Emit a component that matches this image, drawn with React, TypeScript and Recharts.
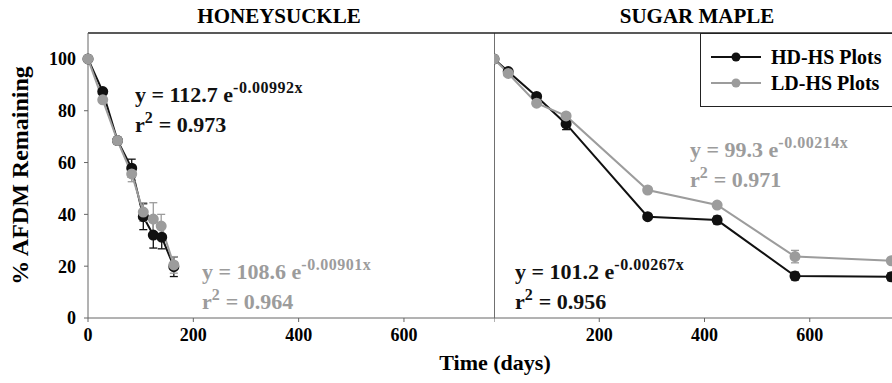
import React from 'react';
import { LineChart, Line, XAxis, YAxis, ErrorBar, ReferenceLine } from 'recharts';

// Honeysuckle (left panel)
const hsDaysHD = [0, 28, 56, 83, 105, 124, 140, 163];
const hsHD = [100, 87.4, 68.5, 57.8, 39.1, 32.0, 31.2, 19.8];
const hsErrHD = [0, 1, 1, 3.5, 5, 5, 4.5, 3.8];
const hsDaysLD = [0, 28, 56, 83, 105, 124, 139, 163];
const hsLD = [100, 84.2, 68.5, 55.6, 40.9, 38.2, 35.5, 20.5];
const hsErrLD = [0, 1, 1.5, 3, 3.6, 6.3, 4.5, 3.2];

// Sugar maple (right panel)
const smDays = [0, 27, 81, 137, 292, 424, 572, 755];
const smHD = [100, 95.1, 85.5, 74.9, 39.1, 37.8, 16.2, 15.9];
const smErrHD = [0, 1, 1, 2.2, 1, 1.5, 1.5, 1.5];
const smLD = [100, 94.4, 82.9, 78.0, 49.4, 43.6, 23.7, 22.1];
const smErrLD = [0, 1, 1, 1, 1, 1, 2.4, 1];

const yTicks = [0, 20, 40, 60, 80, 100];
const hsTicks = [0, 200, 400, 600];
const smTicks = [0, 200, 400, 600];

const BLACK = '#111111';
const GRAY = '#9c9c9c';
const AXIS = '#666666';
const FONT = '"Liberation Serif", "Times New Roman", serif';

const build = (days: number[], vals: number[], errs: number[]) =>
  days.map((d, i) => ({ day: d, value: vals[i], err: errs[i] }));

const hsDataHD = build(hsDaysHD, hsHD, hsErrHD);
const hsDataLD = build(hsDaysLD, hsLD, hsErrLD);
const smDataHD = build(smDays, smHD, smErrHD);
const smDataLD = build(smDays, smLD, smErrLD);

const tickStyle = { fill: '#000', fontSize: 18, fontWeight: 700, fontFamily: FONT };

const supStyle: React.CSSProperties = { fontSize: 16, verticalAlign: 'top', position: 'relative', top: -7, letterSpacing: 0.5 };

const Equation = ({ x, y, color, coef, exp, r2 }: { x: number; y: number; color: string; coef: string; exp: string; r2: string }) => (
  <div style={{ position: 'absolute', left: x, top: y, color, fontSize: 22, fontWeight: 700, lineHeight: '30px', whiteSpace: 'nowrap' }}>
    <div>
      y = {coef} e<sup style={supStyle}>{exp}</sup>
    </div>
    <div>
      r<sup style={supStyle}>2</sup> = {r2}
    </div>
  </div>
);

const series = (data: any[], color: string, name: string) => (
  <Line
    data={data}
    dataKey="value"
    name={name}
    stroke={color}
    strokeWidth={2}
    dot={{ r: 4.5, fill: color, stroke: color }}
    isAnimationActive={false}
  >
    <ErrorBar dataKey="err" width={4} stroke={color} strokeWidth={1.3} direction="y" />
  </Line>
);

const App = () => {
  return (
    <div style={{ position: 'absolute', left: 0, top: 0, width: 892, height: 383, overflow: 'hidden', background: '#fff', fontFamily: FONT }}>
      {/* left panel */}
      <div style={{ position: 'absolute', left: 0, top: 0 }}>
        <LineChart width={494} height={383} margin={{ top: 33, right: 0, bottom: 0, left: 0 }}>
          <XAxis
            type="number"
            dataKey="day"
            domain={[0, 771]}
            ticks={hsTicks}
            height={65}
            tickSize={4}
            tickMargin={6}
            stroke={AXIS}
            tick={tickStyle}
            allowDuplicatedCategory={false}
          />
          <YAxis
            type="number"
            domain={[0, 110]}
            ticks={yTicks}
            width={88}
            tickSize={4}
            tickMargin={8}
            stroke={AXIS}
            tick={tickStyle}
            label={{ value: '% AFDM Remaining', angle: -90, position: 'insideLeft', offset: 19, style: { textAnchor: 'middle', fill: '#000', fontSize: 24, fontWeight: 700, fontFamily: FONT } }}
          />
          <ReferenceLine y={110} stroke="#222" strokeWidth={1.3} />
          {series(hsDataHD, BLACK, 'HD-HS Plots')}
          {series(hsDataLD, GRAY, 'LD-HS Plots')}
        </LineChart>
      </div>
      {/* right panel */}
      <div style={{ position: 'absolute', left: 494, top: 0 }}>
        <LineChart width={421} height={383} margin={{ top: 33, right: 0, bottom: 0, left: 0 }}>
          <XAxis
            type="number"
            dataKey="day"
            domain={[0, 800]}
            ticks={smTicks}
            height={65}
            tickSize={4}
            tickMargin={6}
            stroke={AXIS}
            tick={tickStyle}
            tickFormatter={(v: number) => (v === 0 ? '' : String(v))}
            allowDuplicatedCategory={false}
          />
          <YAxis type="number" domain={[0, 110]} hide />
          <ReferenceLine y={110} stroke="#222" strokeWidth={1.3} />
          <ReferenceLine x={0} stroke="#222" strokeWidth={1.3} />
          {series(smDataHD, BLACK, 'HD-HS Plots')}
          {series(smDataLD, GRAY, 'LD-HS Plots')}
        </LineChart>
      </div>

      {/* titles */}
      <div style={{ position: 'absolute', left: 179, width: 200, top: 4, textAlign: 'center', fontSize: 21, fontWeight: 700 }}>HONEYSUCKLE</div>
      <div style={{ position: 'absolute', left: 597, width: 200, top: 4, textAlign: 'center', fontSize: 21, fontWeight: 700 }}>SUGAR MAPLE</div>
      <div style={{ position: 'absolute', left: 0, width: 990, top: 350, textAlign: 'center', fontSize: 22, fontWeight: 700 }}>Time (days)</div>

      {/* equations */}
      <Equation x={135} y={80} color={BLACK} coef="112.7" exp="-0.00992x" r2="0.973" />
      <Equation x={202} y={257} color={GRAY} coef="108.6" exp="-0.00901x" r2="0.964" />
      <Equation x={690} y={135} color={GRAY} coef="99.3" exp="-0.00214x" r2="0.971" />
      <Equation x={515} y={257} color={BLACK} coef="101.2" exp="-0.00267x" r2="0.956" />

      {/* legend */}
      <div style={{ position: 'absolute', left: 700, top: 33, width: 240, height: 72, border: '1.3px solid #222', background: '#fff', fontSize: 20, fontWeight: 700 }}>
        {[
          { name: 'HD-HS Plots', color: BLACK },
          { name: 'LD-HS Plots', color: GRAY },
        ].map((it, i) => (
          <div key={it.name} style={{ position: 'absolute', left: 10, top: 10 + i * 26, height: 26, display: 'flex', alignItems: 'center', whiteSpace: 'nowrap' }}>
            <svg width={52} height={12} style={{ marginRight: 8 }}>
              <line x1={0} y1={6} x2={50} y2={6} stroke={it.color} strokeWidth={2} />
              <circle cx={25} cy={6} r={4.5} fill={it.color} />
            </svg>
            <span style={{ color: '#000' }}>{it.name}</span>
          </div>
        ))}
      </div>
    </div>
  );
};

export default App;
